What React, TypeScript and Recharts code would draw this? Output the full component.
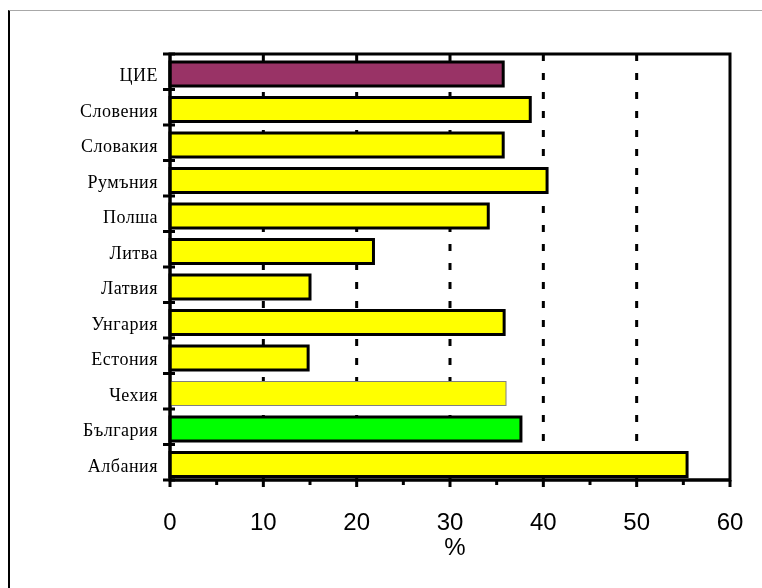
import React from 'react';
import { BarChart, Bar, XAxis, YAxis, CartesianGrid, Cell, ReferenceArea } from 'recharts';

const categories = ['ЦИЕ', 'Словения', 'Словакия', 'Румъния', 'Полша', 'Литва', 'Латвия', 'Унгария', 'Естония', 'Чехия', 'България', 'Албания'];
const values = [35.7, 38.6, 35.7, 40.4, 34.1, 21.8, 15.0, 35.8, 14.8, 36.0, 37.6, 55.4];
const fills = ['#993366', '#FFFF00', '#FFFF00', '#FFFF00', '#FFFF00', '#FFFF00', '#FFFF00', '#FFFF00', '#FFFF00', '#FFFF00', '#00FF00', '#FFFF00'];
const strokes = ['#000', '#000', '#000', '#000', '#000', '#000', '#000', '#000', '#000', '#808080', '#000', '#000'];
const strokeWidths = [3, 3, 3, 3, 3, 3, 3, 3, 3, 1, 3, 3];
const xTicks = [0, 5, 10, 15, 20, 25, 30, 35, 40, 45, 50, 55, 60];
const gridValues = [10, 20, 30, 40, 50];
const xDomain = [0, 60];
const axisTitle = '%';

const data = categories.map((name, i) => ({ name, value: values[i] }));

const YTick = (props: any) => {
  const { x, y, payload, index } = props;
  const half = payload && typeof payload.offset === 'number' && payload.offset > 0 ? payload.offset : 17.75;
  return (
    <g>
      <text x={x - 12} y={y + 9.5} textAnchor="end" fontFamily="'Liberation Serif', serif" fontSize={18} letterSpacing={0.5} fill="#000">
        {payload.value}
      </text>
      <line x1={x - 7} x2={x + 5} y1={y + half} y2={y + half} stroke="#000" strokeWidth={3} />
      {index === 0 ? <line x1={x - 7} x2={x + 5} y1={y - half} y2={y - half} stroke="#000" strokeWidth={3} /> : null}
    </g>
  );
};

const XTick = (props: any) => {
  const { x, y, payload } = props;
  const major = payload.value % 10 === 0;
  return (
    <g>
      <line x1={x} x2={x} y1={y} y2={y + (major ? 7 : 5)} stroke="#000" strokeWidth={3} />
      {major ? (
        <text x={x} y={y + 50} textAnchor="middle" fontFamily="'Liberation Sans', Arial, sans-serif" fontSize={24} fill="#000">
          {payload.value}
        </text>
      ) : null}
    </g>
  );
};

const PercentLabel = (props: any) => {
  const vb = props.viewBox || { x: 162, y: 472, width: 560 };
  return (
    <text x={vb.x + vb.width / 2 + 5} y={vb.y + 75} textAnchor="middle" fontFamily="'Liberation Sans', Arial, sans-serif" fontSize={24} fill="#000">
      {axisTitle}
    </text>
  );
};

const gridGen = (p: any) => {
  const ax = p && p.xAxis;
  if (ax && typeof ax.scale === 'function') {
    return gridValues.map((v) => ax.scale(v));
  }
  const off = p.offset;
  return gridValues.map((v) => off.left + ((v - xDomain[0]) / (xDomain[1] - xDomain[0])) * off.width);
};

const BarShape = (props: any) => {
  const { x, y, width, height, fill, stroke, strokeWidth } = props;
  return <rect x={x} y={y + 2} width={width} height={height} fill={fill} stroke={stroke} strokeWidth={strokeWidth} />;
};

export default function App() {
  return (
    <div style={{ position: 'relative', width: 754, height: 572 }}>
      <div
        style={{
          position: 'fixed',
          left: 8,
          top: 10,
          width: 754,
          height: 578,
          borderLeft: '2px solid #000',
          borderTop: '1px solid #a8a8a8',
          boxSizing: 'border-box',
          pointerEvents: 'none',
        }}
      />
      <BarChart
        width={754}
        height={572}
        data={data}
        layout="vertical"
        margin={{ top: 46, right: 32, left: 0, bottom: 0 }}
        barCategoryGap={0}
      >
        <CartesianGrid
          horizontal={false}
          vertical={true}
          stroke="#000"
          strokeWidth={3}
          strokeDasharray="7 12"
          verticalCoordinatesGenerator={gridGen}
        />
        <XAxis
          type="number"
          domain={xDomain}
          ticks={xTicks}
          interval={0}
          height={100}
          tickSize={0}
          tickMargin={0}
          tickLine={false}
          tick={<XTick />}
          axisLine={{ stroke: '#000', strokeWidth: 3 }}
          label={<PercentLabel />}
        />
        <YAxis
          type="category"
          dataKey="name"
          width={162}
          tickSize={0}
          tickMargin={0}
          tickLine={false}
          tick={<YTick />}
          interval={0}
          axisLine={{ stroke: '#000', strokeWidth: 3 }}
        />
        <Bar dataKey="value" barSize={24} isAnimationActive={false} shape={<BarShape />}>
          {data.map((d, i) => (
            <Cell key={d.name} fill={fills[i]} stroke={strokes[i]} strokeWidth={strokeWidths[i]} />
          ))}
        </Bar>
        <ReferenceArea x1={xDomain[0]} x2={xDomain[1]} fill="none" fillOpacity={0} stroke="#000" strokeWidth={3} ifOverflow="visible" />
      </BarChart>
    </div>
  );
}
